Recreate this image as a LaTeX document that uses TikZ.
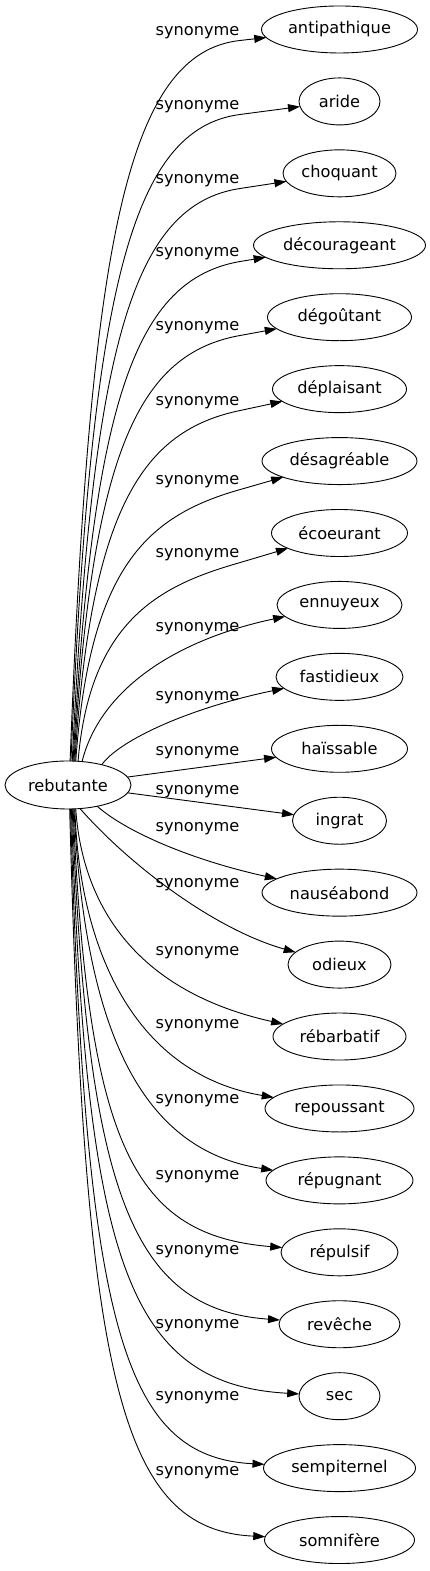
\documentclass[tikz,border=0pt]{standalone}
\usepackage{fontspec}
\setmainfont{DejaVu Sans}
\usetikzlibrary{arrows.meta,positioning,shapes.geometric}

\begin{document}
\begin{tikzpicture}[x=1bp, y=1bp, >={Triangle[length=12bp,width=8bp]}, node distance=24.93bp,
    every node/.style={font=\fontsize{16.2bp}{19bp}\selectfont},
    word/.style={draw, ellipse, line width=0.9bp, minimum height=47bp, inner sep=0pt, outer sep=0pt},
    lbl/.style={inner sep=1bp},
    syn/.style={->, line width=0.9bp}]
  \useasboundingbox (0,0) rectangle (429,1571);

  \node[word, minimum width=126bp, minimum height=48bp] (rebutante) at (68,786) {rebutante};

  \node[word, minimum width=156bp] (antipathique) at (339.5,1541.5) {antipathique};
  \node[word, minimum width=81bp, below=of antipathique] (aride) {aride};
  \node[word, minimum width=113bp, below=of aride] (choquant) {choquant};
  \node[word, minimum width=172bp, below=of choquant] (decourageant) {décourageant};
  \node[word, minimum width=144bp, below=of decourageant] (degoutant) {dégoûtant};
  \node[word, minimum width=134bp, below=of degoutant] (deplaisant) {déplaisant};
  \node[word, minimum width=155bp, below=of deplaisant] (desagreable) {désagréable};
  \node[word, minimum width=136bp, below=of desagreable] (ecoeurant) {écoeurant};
  \node[word, minimum width=125bp, below=of ecoeurant] (ennuyeux) {ennuyeux};
  \node[word, minimum width=127bp, below=of ennuyeux] (fastidieux) {fastidieux};
  \node[word, minimum width=136bp, below=of fastidieux] (haissable) {haïssable};
  \node[word, minimum width=94bp, below=of haissable] (ingrat) {ingrat};
  \node[word, minimum width=155bp, below=of ingrat] (nauseabond) {nauséabond};
  \node[word, minimum width=103bp, below=of nauseabond] (odieux) {odieux};
  \node[word, minimum width=133bp, below=of odieux] (rebarbatif) {rébarbatif};
  \node[word, minimum width=149bp, below=of rebarbatif] (repoussant) {repoussant};
  \node[word, minimum width=147bp, below=of repoussant] (repugnant) {répugnant};
  \node[word, minimum width=117bp, below=of repugnant] (repulsif) {répulsif};
  \node[word, minimum width=121bp, below=of repulsif] (reveche) {revêche};
  \node[word, minimum width=81bp, below=of reveche] (sec) {sec};
  \node[word, minimum width=152bp, below=of sec] (sempiternel) {sempiternel};
  \node[word, minimum width=150bp, below=of sempiternel] (somnifere) {somnifère};

  \node[lbl] (s-antipathique) at (197.5,1538) {synonyme};
  \node[lbl] (s-aride) at (197.5,1464) {synonyme};
  \node[lbl] (s-choquant) at (197.5,1390) {synonyme};
  \node[lbl] (s-decourageant) at (197.5,1317) {synonyme};
  \node[lbl] (s-degoutant) at (197.5,1243) {synonyme};
  \node[lbl] (s-deplaisant) at (197.5,1168) {synonyme};
  \node[lbl] (s-desagreable) at (197.5,1089) {synonyme};
  \node[lbl] (s-ecoeurant) at (197.5,1016) {synonyme};
  \node[lbl] (s-ennuyeux) at (197.5,942) {synonyme};
  \node[lbl] (s-fastidieux) at (197.5,873) {synonyme};
  \node[lbl] (s-haissable) at (197.5,818) {synonyme};
  \node[lbl] (s-ingrat) at (197.5,779) {synonyme};
  \node[lbl] (s-nauseabond) at (197.5,742) {synonyme};
  \node[lbl] (s-odieux) at (197.5,686) {synonyme};
  \node[lbl] (s-rebarbatif) at (197.5,618) {synonyme};
  \node[lbl] (s-repoussant) at (197.5,545) {synonyme};
  \node[lbl] (s-repugnant) at (197.5,470) {synonyme};
  \node[lbl] (s-repulsif) at (197.5,394) {synonyme};
  \node[lbl] (s-reveche) at (197.5,319) {synonyme};
  \node[lbl] (s-sec) at (197.5,245) {synonyme};
  \node[lbl] (s-sempiternel) at (197.5,173) {synonyme};
  \node[lbl] (s-somnifere) at (197.5,98) {synonyme};

  \draw[syn] (rebutante.85) .. controls +(20,519) and +(-114,-12) .. (s-antipathique.south east) -- (antipathique);
  \draw[syn] (rebutante.83) .. controls +(20,466) and +(-111,-14) .. (s-aride.south east) -- (aride);
  \draw[syn] (rebutante.80) .. controls +(20,413) and +(-109,-16) .. (s-choquant.south east) -- (choquant);
  \draw[syn] (rebutante.78) .. controls +(20,359) and +(-106,-18) .. (s-decourageant.south east) -- (decourageant);
  \draw[syn] (rebutante.76) .. controls +(18,307) and +(-103,-18) .. (s-degoutant.south east) -- (degoutant);
  \draw[syn] (rebutante.74) .. controls +(16,253) and +(-98,-20) .. (s-deplaisant.south east) -- (deplaisant);
  \draw[syn] (rebutante.72) .. controls +(14,196) and +(-92,-26) .. (s-desagreable.south east) -- (desagreable);
  \draw[syn] (rebutante.67) .. controls +(12,144) and +(-77,-22) .. (s-ecoeurant.south east) -- (ecoeurant);
  \draw[syn] (rebutante.59) .. controls +(18,72) and +(-164.5,-35) .. (ennuyeux);
  \draw[syn] (rebutante.31) .. controls +(18,25) and +(-149.5,-31) .. (fastidieux);
  \draw[syn] (rebutante) -- (haissable);
  \draw[syn] (rebutante) -- (ingrat);
  \draw[syn] (rebutante.-36) .. controls +(28,-25) and +(-149.5,33) .. (nauseabond);
  \draw[syn] (rebutante.-63) .. controls +(50,-57) and +(-124.5,35) .. (odieux);
  \draw[syn] (rebutante.-72) .. controls +(6,-90) and +(-209.5,46.5) .. (rebarbatif);
  \draw[syn] (rebutante.-74) .. controls +(5,-150) and +(-199.5,33.5) .. (repoussant);
  \draw[syn] (rebutante.-76) .. controls +(11,-220) and +(-199.5,30.5) .. (repugnant);
  \draw[syn] (rebutante.-78) .. controls +(15,-340) and +(-204.5,17) .. (repulsif);
  \draw[syn] (rebutante.-80) .. controls +(15,-380) and +(-209.5,15) .. (reveche);
  \draw[syn] (rebutante.-82) .. controls +(15,-446) and +(-214.5,12) .. (sec);
  \draw[syn] (rebutante.-84) .. controls +(15,-514) and +(-217.5,11) .. (sempiternel);
  \draw[syn] (rebutante.-86) .. controls +(15,-571) and +(-219.5,10) .. (somnifere);
\end{tikzpicture}
\end{document}
